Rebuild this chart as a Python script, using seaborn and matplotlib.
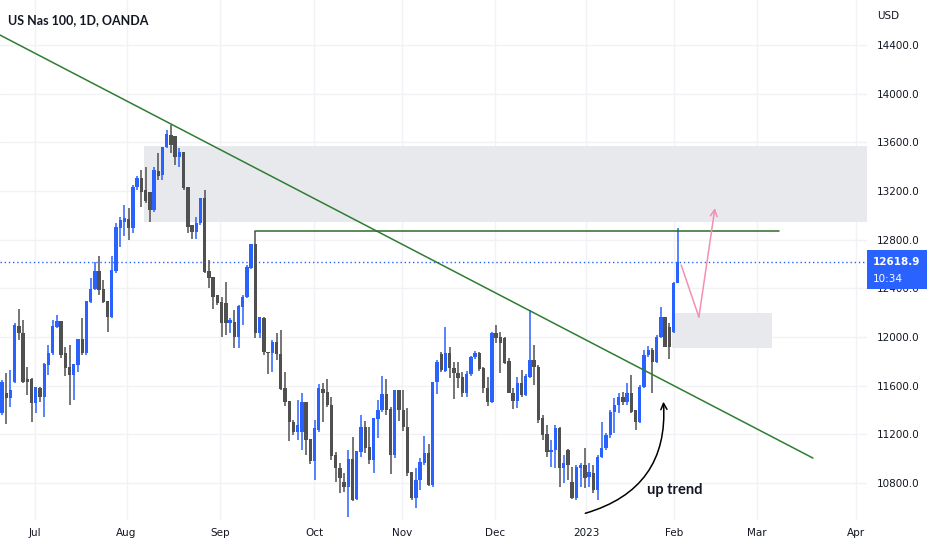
import numpy as np
import pandas as pd
import matplotlib.pyplot as plt
import seaborn as sns
from matplotlib.patches import Rectangle

# 日线K线数据 (US Nas 100, 1D, OANDA)
opens = [11373, 11543, 11496, 11633, 12091, 12030, 11652, 11652, 11461, 11584,
         11510, 11770, 11866, 12085, 12129, 11866, 11751, 11688, 11770, 11987,
         11866, 12291, 12395, 12543, 12395, 12296, 12168, 12543, 12894, 12948,
         12967, 12894, 13231, 13304, 13209, 13195, 13044, 13365, 13332, 13565,
         13660, 13652, 13482, 13524, 13231, 12921, 12866, 12935, 13140, 12543,
         12496, 12346, 12291, 12277, 12113, 12127, 12003, 12250, 12327, 12565,
         12765, 12031, 12159, 11880, 11866, 11962, 11861, 11579, 11475, 11305,
         11223, 11223, 11469, 11160, 10984, 11236, 11571, 11551, 11442, 11031,
         10921, 10812, 10771, 10995, 10667, 11058, 11258, 11099, 10990, 11324,
         11401, 11532, 11406, 11031, 11565, 11401, 11264, 10894, 10675, 10826,
         10962, 11045, 10785, 11634, 11861, 11724, 11866, 11743, 11708, 11669,
         11538, 11697, 11834, 11872, 11743, 11579, 11469, 12036, 11998, 11990,
         11806, 11543, 11477, 11626, 11524, 11669, 11812, 11757, 11332, 11204,
         11058, 11072, 11250, 10921, 11072, 10812, 10675, 10921, 10949, 10853,
         10880, 10743, 11017, 11086, 11195, 11387, 11442, 11510, 11469, 11538,
         11401, 11305, 11593, 11853, 11894, 11798, 12003, 12162, 12086, 12040,
         12447]
highs = [11645, 11702, 11729, 12113, 12228, 12140, 11756, 11660, 11592, 11592,
         11784, 11935, 12140, 12181, 12129, 11921, 11935, 11776, 11987, 12154,
         12296, 12483, 12620, 12666, 12469, 12296, 12666, 12935, 12990, 13085,
         13058, 13250, 13324, 13373, 13395, 13195, 13395, 13510, 13565, 13702,
         13743, 13652, 13551, 13524, 13231, 12921, 12989, 13140, 13209, 12633,
         12496, 12346, 12330, 12455, 12154, 12222, 12264, 12346, 12592, 12765,
         12874, 12162, 12168, 11880, 11976, 12031, 12058, 11716, 11475, 11319,
         11483, 11538, 11469, 11160, 11319, 11614, 11620, 11653, 11510, 11059,
         10968, 10880, 11072, 11182, 11067, 11360, 11313, 11264, 11332, 11483,
         11680, 11653, 11428, 11565, 11565, 11565, 11415, 10894, 10921, 11004,
         11187, 11121, 11634, 11812, 11880, 12086, 11921, 11798, 11798, 11716,
         11724, 11845, 11888, 11880, 11757, 11669, 12045, 12099, 12045, 11998,
         11825, 11579, 11669, 11730, 11697, 12223, 11935, 11770, 11360, 11278,
         11154, 11278, 11264, 11031, 11078, 10935, 10949, 10962, 11086, 10962,
         10949, 11031, 11305, 11209, 11401, 11497, 11538, 11551, 11620, 11688,
         11401, 11606, 11894, 11927, 11907, 12017, 12244, 12168, 12113, 12455,
         12900]
lows = [11360, 11285, 11428, 11620, 11975, 11620, 11524, 11305, 11373, 11469,
        11346, 11688, 11853, 12072, 11825, 11680, 11442, 11483, 11715, 11853,
        11853, 12277, 12387, 12346, 12283, 12044, 12154, 12529, 12743, 12830,
        12798, 12858, 13209, 13072, 13099, 12948, 13031, 13291, 13291, 13550,
        13515, 13414, 13400, 13209, 12858, 12803, 12803, 12921, 12529, 12401,
        12231, 12264, 12003, 12017, 12031, 11907, 11907, 12099, 12318, 12557,
        11990, 11990, 11853, 11697, 11716, 11812, 11565, 11434, 11149, 11195,
        11154, 11072, 11031, 10957, 10826, 11223, 11305, 11428, 10990, 10812,
        10716, 10730, 10524, 10656, 10661, 11017, 11045, 10957, 10880, 11168,
        11387, 11360, 10872, 11004, 11313, 11231, 10858, 10661, 10593, 10743,
        10949, 10776, 10765, 11532, 11716, 11716, 11661, 11488, 11579, 11505,
        11505, 11680, 11820, 11724, 11543, 11434, 11456, 11949, 11702, 11779,
        11538, 11406, 11415, 11505, 11515, 11660, 11606, 11291, 11154, 11017,
        10930, 10921, 10771, 10798, 10826, 10667, 10661, 10771, 10757, 10771,
        10716, 10661, 11004, 11072, 11168, 11209, 11373, 11442, 11442, 11373,
        11236, 11291, 11579, 11839, 11538, 11790, 11990, 11916, 11817, 12031,
        12442]
closes = [11633, 11496, 11565, 12099, 12030, 11633, 11633, 11461, 11592, 11510,
          11776, 11866, 12094, 12129, 11853, 11743, 11688, 11776, 11987, 11872,
          12296, 12395, 12543, 12387, 12291, 12162, 12551, 12907, 12962, 12976,
          12894, 13231, 13304, 13195, 13121, 13044, 13373, 13324, 13565, 13669,
          13578, 13482, 13524, 13222, 12907, 12866, 12935, 13140, 12538, 12483,
          12332, 12283, 12113, 12113, 12140, 12003, 12255, 12332, 12579, 12765,
          12031, 12162, 11880, 11866, 11962, 11861, 11573, 11469, 11305, 11223,
          11278, 11469, 11154, 10984, 11250, 11579, 11543, 11442, 11023, 10921,
          10839, 10771, 10995, 10661, 11067, 11258, 11086, 10990, 11332, 11401,
          11532, 11401, 11031, 11565, 11401, 11258, 10880, 10675, 10826, 10976,
          11045, 10785, 11634, 11798, 11730, 11866, 11743, 11702, 11661, 11538,
          11697, 11834, 11872, 11735, 11579, 11469, 12036, 11990, 11949, 11784,
          11543, 11477, 11626, 11524, 11680, 11812, 11757, 11319, 11196, 11058,
          11072, 11250, 10921, 10962, 10949, 10675, 10935, 10949, 10839, 10894,
          10743, 11017, 11086, 11195, 11387, 11442, 11510, 11469, 11538, 11387,
          11305, 11593, 11853, 11894, 11798, 12003, 12168, 11921, 11921, 12447,
          12618.9]

# 月份刻度（按K线序号）
month_labels = ['Jul', 'Aug', 'Sep', 'Oct', 'Nov', 'Dec', '2023', 'Feb', 'Mar', 'Apr']
month_pos = [7.7, 29.5, 51.6, 73.9, 94.8, 116.7, 138.3, 159.2, 178.8, 202.3]
price_ticks = [10800, 11200, 11600, 12000, 12400, 12800, 13200, 13600, 14000, 14400]
last_price = 12618.9

# 画线工具
trend_x = [-0.47, 192.0]
trend_y = [14482, 11006]
resist_x = [60, 184.0]
resist_y = [12874, 12874]
zone_top = (33.6, 205.5, 12948, 13573)
zone_low = (158.7, 182.3, 11908, 12195)
path_x = [160.8, 165.0, 168.8]
path_y = [12592, 12165, 13061]

df = pd.DataFrame({'open': opens, 'high': highs, 'low': lows, 'close': closes})
df['idx'] = np.arange(len(df))
up_col, down_col = '#2962ff', '#505050'
df['color'] = np.where(df['close'] >= df['open'], up_col, down_col)

sns.set_theme(style='white')
plt.rcParams['font.family'] = ['DejaVu Sans']

fig = plt.figure(figsize=(9.32, 5.5), dpi=100)
ax = fig.add_axes([0, 1 - 520 / 550, 867 / 932, 520 / 550])
ax.set_xlim(-0.47, 204.8)
ax.set_ylim(10497, 14770)

for s in ax.spines.values():
    s.set_visible(False)
for p in price_ticks:
    ax.axhline(p, color='#f0f2f6', lw=1, zorder=0)
for m in month_pos:
    ax.axvline(m, color='#f0f2f6', lw=1, zorder=0)

# 区域
for x0, x1, y0, y1 in [zone_top, zone_low]:
    ax.add_patch(Rectangle((x0, y0), x1 - x0, y1 - y0, color='#e8e9ed', lw=0, zorder=1))

# K线
ax.vlines(df['idx'], df['low'], df['high'], colors=df['color'], lw=1.1, zorder=3)
body = (df['close'] - df['open']).abs().clip(lower=12)
ax.bar(df['idx'], body, bottom=df[['open', 'close']].min(axis=1), width=0.8,
       color=df['color'], lw=0, zorder=3)

# 趋势线、阻力线
ax.plot(trend_x, trend_y, color='#2e7d32', lw=1.1, zorder=4)
ax.plot(resist_x, resist_y, color='#2e6b2a', lw=1.1, zorder=4)
ax.axhline(last_price, color='#2962ff', lw=1, ls=(0, (1, 2)), zorder=2)

# 粉色预测路径
ax.plot(path_x[:2], path_y[:2], color='#f48fb1', lw=1.1, zorder=5)
ax.annotate('', xy=(path_x[2], path_y[2]), xytext=(path_x[1], path_y[1]),
            arrowprops=dict(arrowstyle='->', color='#f48fb1', lw=1.1,
                            shrinkA=0, shrinkB=0, mutation_scale=12), zorder=5)

# up trend 箭头
ax.annotate('', xy=(156.6, 11469), xytext=(138.1, 10552),
            arrowprops=dict(arrowstyle='->', color='black', lw=1.1,
                            connectionstyle='arc3,rad=0.4', shrinkA=0, shrinkB=0,
                            mutation_scale=11))
ax.text(152.8, 10745, 'up trend', fontsize=10.5, fontweight='bold', color='#131722',
        va='center', ha='left', family=['Lato', 'DejaVu Sans'])

# 坐标轴
ax.yaxis.tick_right()
ax.set_yticks(price_ticks)
ax.set_yticklabels([f'{p:.1f}' for p in price_ticks])
ax.set_xticks(month_pos)
ax.set_xticklabels(month_labels)
ax.tick_params(axis='both', length=0, labelsize=7.5, labelcolor='#131722')
ax.tick_params(axis='y', pad=7)
ax.tick_params(axis='x', pad=6)

fig.text(8 / 932, 1 - 20 / 550, 'US Nas 100, 1D, OANDA', fontsize=9, fontweight='bold',
         color='#131722', va='center', ha='left', family=['Lato', 'DejaVu Sans'])
fig.text(877 / 932, 1 - 16 / 550, 'USD', fontsize=7.5, color='#131722', va='center', ha='left')

# 最新价标签
fig.patches.append(Rectangle((867 / 932, 1 - 289 / 550), 60 / 932, 39 / 550,
                             transform=fig.transFigure, color='#2962ff', lw=0))
fig.text(873 / 932, 1 - 262 / 550, '12618.9', fontsize=7.5, fontweight='bold',
         color='white', va='center', ha='left')
fig.text(873 / 932, 1 - 279 / 550, '10:34', fontsize=7.5, color='white',
         va='center', ha='left')

plt.savefig('out.png', dpi=100)
